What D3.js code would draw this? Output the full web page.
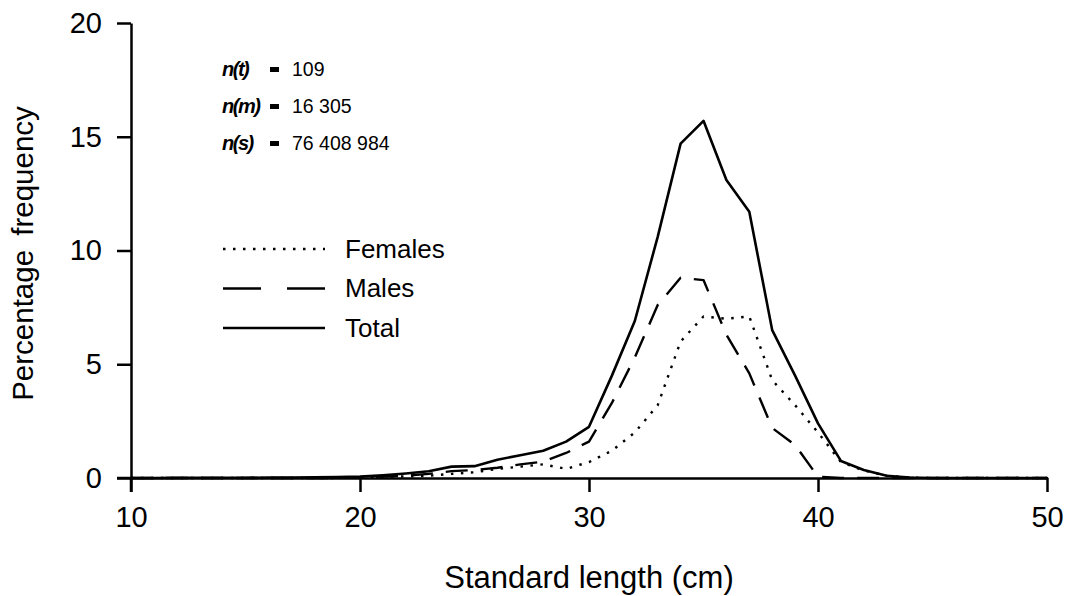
<!DOCTYPE html>
<html>
<head>
<meta charset="utf-8">
<script src="https://cdn.jsdelivr.net/npm/d3@7"></script>
<style>
  html, body { margin: 0; padding: 0; background: #fff; }
  svg { display: block; }
  text { font-family: "Liberation Sans", Arial, sans-serif; fill: #000; }
</style>
</head>
<body>
<svg id="chart" width="1069" height="596"></svg>
<script>
// ---- data ----
const lengths = d3.range(10, 51); // standard length, cm
const total = [0,0,0.01,0.01,0.01,0.01,0.02,0.02,0.03,0.04,
  0.06,0.12,0.2,0.3,0.5,0.52,0.8,1.0,1.2,1.6,
  2.25,4.5,6.9,10.6,14.7,15.7,13.1,11.7,6.5,4.5,
  2.4,0.75,0.35,0.1,0.02,0,0,0,0,0,0];
const males = [0,0,0,0,0,0,0,0,0,0,
  0.03,0.06,0.1,0.18,0.3,0.35,0.45,0.6,0.72,1.1,
  1.6,3.3,5.3,7.6,8.8,8.7,6.3,4.6,2.2,1.45,
  0.05,0,0,0,0,0,0,0,0,0,0];
const females = [0,0,0,0,0,0,0,0,0,0,
  0.02,0.04,0.07,0.1,0.18,0.25,0.4,0.5,0.6,0.4,
  0.7,1.2,2.0,3.2,6.0,7.1,7.0,7.1,4.3,3.2,
  2.0,0.7,0.33,0.1,0.02,0,0,0,0,0,0];
const xTicks = [10, 20, 30, 40, 50];
const yTicks = [0, 5, 10, 15, 20];
const seriesNames = ["Females", "Males", "Total"];
const annotations = [
  {label: "n(t)", value: "109"},
  {label: "n(m)", value: "16 305"},
  {label: "n(s)", value: "76 408 984"}
];
const xTitle = "Standard length (cm)";
const yTitle = "Percentage frequency";

// ---- layout ----
const svg = d3.select("#chart");
const x = d3.scaleLinear().domain([10, 50]).range([131, 1047]);
const y = d3.scaleLinear().domain([0, 20]).range([478, 23]);

const styles = {
  Females: {dash: "2.5,7.5", width: 2.4, cap: "butt"},
  Males: {dash: "22,13", width: 2.4, cap: "butt"},
  Total: {dash: null, width: 2.6, cap: "round"}
};
const legendDash = {Females: "2.5,7.5", Males: "38,26", Total: null};
const seriesData = {Females: females, Males: males, Total: total};

// axes
const xAxis = d3.axisBottom(x).tickValues(xTicks).tickSize(14).tickPadding(14).tickSizeOuter(0);
const yAxis = d3.axisLeft(y).tickValues(yTicks).tickSize(14).tickPadding(15).tickSizeOuter(0);

const gx = svg.append("g").attr("transform", `translate(0,${y(0)})`).call(xAxis);
const gy = svg.append("g").attr("transform", `translate(${x(10)},0)`).call(yAxis);
[gx, gy].forEach(g => {
  g.select(".domain").attr("stroke", "#000").attr("stroke-width", 2.5);
  g.selectAll(".tick line").attr("stroke", "#000").attr("stroke-width", 2.5);
  g.selectAll(".tick text").attr("font-size", 29).attr("font-family", "Liberation Sans, Arial, sans-serif").attr("fill", "#000");
});
// extend x domain line a bit left to the y-axis tick end
svg.append("line").attr("x1", x(10) - 14).attr("x2", x(10)).attr("y1", y(0)).attr("y2", y(0))
  .attr("stroke", "#000").attr("stroke-width", 2.5);
svg.append("line").attr("x1", x(10)).attr("x2", x(10)).attr("y1", y(0)).attr("y2", y(0) + 14)
  .attr("stroke", "#000").attr("stroke-width", 2.5);

// titles
svg.append("text").attr("x", x(30)).attr("y", 588).attr("text-anchor", "middle")
  .attr("font-size", 31).text(xTitle);
svg.append("text").attr("transform", `translate(33,${y(10) + 3}) rotate(-90)`).attr("text-anchor", "middle")
  .attr("font-size", 29.5).attr("word-spacing", 6).text(yTitle);

// lines
const line = d3.line().x((d, i) => x(lengths[i])).y(d => y(d));
seriesNames.forEach(name => {
  const s = styles[name];
  svg.append("path").datum(seriesData[name])
    .attr("d", line)
    .attr("fill", "none").attr("stroke", "#000")
    .attr("stroke-width", s.width)
    .attr("stroke-linejoin", "round")
    .attr("stroke-linecap", s.cap)
    .attr("stroke-dasharray", s.dash);
});

// legend
const legend = svg.append("g");
seriesNames.forEach((name, i) => {
  const yy = 249 + i * 39.5;
  legend.append("line").attr("x1", 223).attr("x2", 325).attr("y1", yy).attr("y2", yy)
    .attr("stroke", "#000").attr("stroke-width", 2.4).attr("stroke-dasharray", legendDash[name]);
  legend.append("text").attr("x", 345).attr("y", yy + 8.5).attr("font-size", 26).text(name);
});

// annotation
annotations.forEach((a, i) => {
  const by = 76 + i * 37;
  svg.append("text").attr("x", 222).attr("y", by)
    .attr("font-size", 20).attr("font-style", "italic").attr("font-weight", "bold")
    .attr("font-family", "DejaVu Serif, serif").attr("letter-spacing", -1.5).text(a.label);
  svg.append("rect").attr("x", 270).attr("y", by - 9).attr("width", 9).attr("height", 5).attr("fill", "#000");
  svg.append("text").attr("x", 292).attr("y", by)
    .attr("font-size", 19.5).text(a.value);
});
</script>
</body>
</html>
